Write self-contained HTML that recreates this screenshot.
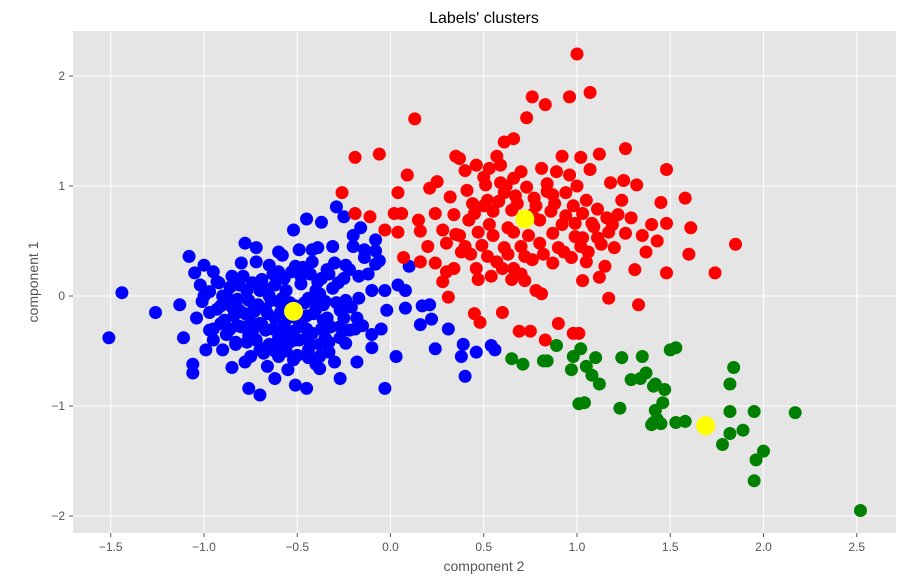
<!DOCTYPE html>
<html><head><meta charset="utf-8"><style>
body{margin:0;background:#fff;font-family:"Liberation Sans",sans-serif;}
svg text{font-family:"Liberation Sans",sans-serif;}
</style></head><body>
<svg id="chart" width="917" height="581" xmlns="http://www.w3.org/2000/svg">
<rect x="0" y="0" width="917" height="581" fill="#fff"/>
<rect x="73" y="31" width="823" height="502" fill="#e5e5e5"/>
<g id="grid"></g>
<g id="ticks"></g>
<g id="points"></g>
<text x="484" y="23" text-anchor="middle" font-size="16" fill="#000">Labels' clusters</text>
<text x="484" y="571" text-anchor="middle" font-size="14" fill="#555">component 2</text>
<text x="38" y="282" text-anchor="middle" font-size="14" fill="#555" transform="rotate(-90 38 282)">component 1</text>
</svg>
<script>
const xTicks=[-1.5,-1.0,-0.5,0.0,0.5,1.0,1.5,2.0,2.5];
const xTickLabels=["−1.5","−1.0","−0.5","0.0","0.5","1.0","1.5","2.0","2.5"];
const yTicks=[-2,-1,0,1,2];
const yTickLabels=["−2","−1","0","1","2"];
const blueX=[-1.44,-1.51,-1.26,-1.13,-1.08,-1.05,-1.0,-1.11,-1.06,-1.06,-0.78,-0.72,-0.76,-0.70,-0.66,-0.52,-0.45,-0.37,-0.29,-0.25,-0.16,-0.08,-0.08,-0.08,-0.10,-0.03,-0.02,0.04,0.08,0.10,0.08,0.03,-0.03,0.17,0.21,0.16,0.22,0.24,0.31,0.39,0.38,0.40,0.46,0.54,0.56,-0.27,-0.51,-0.45,-0.38,-0.18,-0.10,-0.15,-0.24,-0.18,-0.17,-0.25,-0.24,-0.17,-0.14,-0.31,-0.39,-0.58,-0.65,-0.85,-0.93,-0.97,-1.01,-1.04,-0.97,-0.99,-0.90,-0.83,-0.78,-0.70,-0.60,-0.52,-0.44,-0.33,-0.27,-0.89,-0.81,-0.87,-0.77,-0.69,-0.60,-0.51,-0.42,-0.34,-0.31,-0.35,-0.27,-0.36,-0.44,-0.51,-0.60,-0.67,-0.75,-0.73,-0.65,-0.56,-0.48,-0.39,-0.44,-0.51,-0.59,-0.66,-0.49,-0.41,-0.57,-0.65,-0.76,-0.82,-0.91,-0.79,-0.72,-0.49,-0.46,-0.38,-0.24,-0.22,-0.55,-0.62,-0.85,-0.95,-0.6,-0.55,-0.45,-0.7,-0.4,-0.62,-0.48,-0.35,-0.58,-0.7,-0.85,-0.3,-0.42,-0.25,-0.9,-1.02,-0.95,-0.88,-0.12,-0.2,-0.05,-0.3,-0.8,-0.6,-0.38,
-0.92,-0.86,-0.81,-0.74,-0.68,-0.63,-0.57,-0.53,-0.47,-0.43,-0.37,-0.33,-0.28,-0.22,-0.93,-0.88,-0.82,-0.76,-0.71,-0.64,-0.58,-0.54,-0.46,-0.41,-0.36,-0.29,-0.21,-0.91,-0.84,-0.78,-0.73,-0.67,-0.62,-0.55,-0.5,-0.45,-0.4,-0.34,-0.26,-0.19,-0.86,-0.8,-0.74,-0.69,-0.63,-0.57,-0.52,-0.47,-0.42,-0.37,-0.32,-0.27,-0.83,-0.77,-0.72,-0.66,-0.6,-0.54,-0.49,-0.43,-0.38,-0.33,-0.75,-0.68,-0.62,-0.56,-0.5,-0.44,-0.4,-0.97,-1.0,-0.95,-0.14,-0.1,-0.06,-0.2];
const blueY=[0.03,-0.38,-0.15,-0.08,0.36,0.21,0.28,-0.38,-0.62,-0.70,0.48,0.44,-0.84,-0.90,-0.64,0.60,0.70,0.67,0.81,0.72,0.62,0.51,0.41,0.29,0.05,0.05,-0.13,0.10,0.05,0.27,-0.11,-0.55,-0.84,-0.09,-0.08,-0.26,-0.21,-0.48,-0.30,-0.44,-0.55,-0.73,-0.51,-0.45,-0.49,-0.75,-0.81,-0.84,-0.66,-0.60,-0.47,-0.27,-0.43,-0.20,-0.02,0.16,0.28,0.18,0.42,0.45,0.44,0.37,0.28,0.18,0.13,0.04,-0.05,-0.20,-0.31,-0.49,-0.49,-0.42,-0.60,-0.49,-0.55,-0.58,-0.49,-0.51,-0.38,-0.22,-0.13,-0.02,0.05,0.15,0.22,0.27,0.31,0.24,0.07,-0.05,-0.13,-0.22,-0.35,-0.40,-0.38,-0.31,-0.24,-0.09,0.0,0.05,0.11,0.13,-0.02,-0.09,-0.15,-0.16,-0.24,-0.16,-0.27,-0.44,-0.36,-0.27,-0.09,0.18,0.31,0.42,0.22,0.02,-0.04,-0.31,-0.67,-0.75,-0.65,-0.40,-0.05,-0.2,-0.3,-0.25,0.05,0.1,0.18,-0.38,-0.45,0.05,-0.1,0.3,0.42,-0.2,0.0,0.1,0.22,-0.35,0.2,0.45,-0.3,-0.6,0.3,0.4,-0.55,
0.12,0.08,0.1,0.12,0.08,0.2,0.16,0.22,0.26,0.2,0.16,0.2,0.12,0.24,-0.12,-0.05,-0.03,-0.04,-0.08,-0.04,-0.02,-0.06,-0.06,-0.03,-0.08,-0.06,-0.1,-0.25,-0.18,-0.16,-0.14,-0.12,-0.2,-0.12,-0.1,-0.18,-0.12,-0.2,-0.14,-0.3,-0.3,-0.28,-0.32,-0.26,-0.3,-0.34,-0.32,-0.28,-0.34,-0.3,-0.28,-0.28,-0.44,-0.42,-0.4,-0.46,-0.4,-0.42,-0.4,-0.44,-0.44,-0.42,-0.55,-0.52,-0.5,-0.5,-0.54,-0.56,-0.62,-0.15,0.0,-0.3,0.35,-0.35,0.32,0.55];
const redX=[1.0,1.07,0.76,0.96,0.83,0.73,0.13,0.66,0.61,-0.19,-0.06,0.35,0.37,1.12,1.26,0.57,0.92,1.02,0.09,0.25,0.40,0.46,0.53,0.59,0.70,0.81,0.89,0.96,1.07,1.18,1.25,1.32,1.48,1.58,1.45,-0.26,0.04,0.21,0.32,0.41,0.51,0.61,0.73,0.84,0.94,1.05,1.11,1.24,-0.19,-0.11,0.02,0.06,0.15,0.24,0.34,0.45,0.55,0.65,0.76,0.86,0.94,1.03,1.16,1.22,1.29,1.40,1.48,1.61,-0.03,0.04,0.16,0.28,0.37,0.47,0.55,0.66,0.74,0.87,0.99,1.11,1.35,1.43,0.20,0.30,0.40,0.49,0.61,0.70,0.80,0.90,1.02,1.13,1.20,1.85,0.07,0.16,0.24,0.34,0.46,0.57,0.66,0.76,0.87,0.97,1.05,1.15,1.31,1.37,1.48,1.60,1.74,0.31,0.47,0.54,0.65,0.72,0.78,0.81,1.03,1.12,1.17,1.33,0.45,0.48,0.60,0.69,0.75,0.83,0.90,0.98,1.01,0.28,0.38,0.53,0.63,0.80,0.92,0.99,1.09,1.17,0.52,0.67,0.77,0.87,1.19,1.26,0.35,0.42,0.59,0.66,1.03,
0.44,0.50,0.58,0.68,0.78,0.88,0.98,1.08,0.43,0.52,0.63,0.72,0.82,0.93,1.06,0.5,0.62,0.84,1.0,0.3,0.6,0.7];
const redY=[2.2,1.85,1.81,1.81,1.74,1.62,1.61,1.43,1.40,1.26,1.29,1.27,1.25,1.29,1.34,1.27,1.27,1.26,1.10,1.04,1.14,1.19,1.16,1.19,1.13,1.16,1.13,1.10,1.15,1.03,1.05,1.01,1.15,0.89,0.85,0.94,0.94,0.98,0.90,0.96,1.01,0.94,0.99,0.95,0.94,0.87,0.79,0.87,0.75,0.72,0.75,0.75,0.69,0.75,0.74,0.75,0.77,0.78,0.74,0.77,0.73,0.75,0.71,0.74,0.71,0.65,0.66,0.62,0.60,0.58,0.59,0.60,0.55,0.58,0.55,0.58,0.55,0.57,0.54,0.53,0.55,0.50,0.45,0.48,0.45,0.46,0.44,0.45,0.48,0.44,0.45,0.47,0.44,0.47,0.35,0.31,0.30,0.25,0.25,0.31,0.25,0.33,0.30,0.35,0.31,0.27,0.24,0.40,0.21,0.38,0.21,-0.01,0.15,0.18,0.15,0.14,0.05,0.02,0.14,0.17,-0.02,-0.08,-0.16,-0.24,-0.15,-0.32,-0.32,-0.40,-0.25,-0.34,-0.34,0.13,0.40,0.65,0.62,0.69,0.65,0.66,0.63,0.58,0.87,0.91,0.89,0.92,0.65,0.57,0.56,0.69,1.03,1.07,0.53,
0.84,0.82,0.86,0.84,0.82,0.84,0.82,0.66,0.38,0.36,0.38,0.36,0.38,0.40,0.40,1.08,1.0,1.02,1.0,0.22,0.25,0.2];
const greenX=[0.65,0.71,0.82,0.84,0.89,0.97,0.98,1.02,1.05,1.10,1.08,1.12,1.01,1.04,1.23,1.24,1.29,1.34,1.35,1.41,1.42,1.47,1.41,1.42,1.45,1.43,1.46,1.40,1.53,1.58,1.50,1.53,1.78,1.82,1.89,1.82,1.82,1.84,1.95,1.96,2.00,1.95,2.17,2.52,1.37];
const greenY=[-0.57,-0.62,-0.59,-0.59,-0.45,-0.67,-0.55,-0.48,-0.64,-0.56,-0.72,-0.80,-0.98,-0.97,-1.02,-0.56,-0.76,-0.75,-0.55,-0.82,-0.80,-0.85,-1.15,-1.04,-1.16,-1.12,-0.97,-1.17,-1.15,-1.14,-0.49,-0.47,-1.35,-1.25,-1.22,-1.05,-0.80,-0.65,-1.05,-1.49,-1.41,-1.68,-1.06,-1.95,-0.70];
const centroidX=[-0.52,0.72,1.69];
const centroidY=[-0.14,0.70,-1.18];

const L=73,R=896,T=31,B=533;
function sx(v){return 390.5+v*186.5;}
function sy(v){return 296+(-v)*110;}
const NS="http://www.w3.org/2000/svg";
const grid=document.getElementById('grid'),ticks=document.getElementById('ticks'),pts=document.getElementById('points');
function mk(tag,attrs,parent){const e=document.createElementNS(NS,tag);for(const k in attrs)e.setAttribute(k,attrs[k]);parent.appendChild(e);return e;}
xTicks.forEach((v,i)=>{
  const x=sx(v);
  const g=mk('line',{x1:x,x2:x,y1:T,y2:B,stroke:'#fff','stroke-width':1},grid);
  
  
  const t=mk('line',{x1:x,x2:x,y1:B,y2:B+4,stroke:'#555'},ticks);
  
  
  const l=mk('text',{x:x,y:B+18,'text-anchor':'middle','font-size':12,fill:'#555'},ticks);
  l.textContent=xTickLabels[i];
  
  
});
yTicks.forEach((v,i)=>{
  const y=sy(v);
  const g=mk('line',{x1:L,x2:R,y1:y,y2:y,stroke:'#fff','stroke-width':1},grid);
  
  
  const t=mk('line',{x1:L-4,x2:L,y1:y,y2:y,stroke:'#555'},ticks);
  
  
  const l=mk('text',{x:L-8,y:y+4,'text-anchor':'end','font-size':12,fill:'#555'},ticks);
  l.textContent=yTickLabels[i];
  
  
});
function series(xs,ys,color,name,r){
  xs.forEach((v,i)=>{
    const c=mk('circle',{cx:sx(v),cy:sy(ys[i]),r:r,fill:color},pts);
    
    
  });
}
series(blueX,blueY,'#0000ff','blue-cluster-point',6.5);
series(redX,redY,'#ff0000','red-cluster-point',6.5);
series(greenX,greenY,'#008000','green-cluster-point',6.5);
series(centroidX,centroidY,'#ffff00','centroid-point',9.5);
</script>
</body></html>
